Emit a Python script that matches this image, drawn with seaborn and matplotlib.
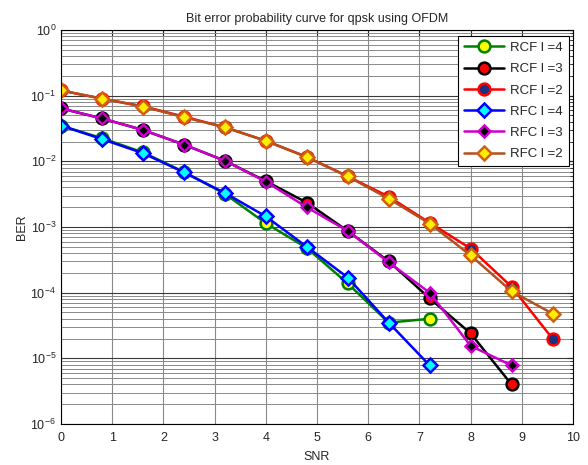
import numpy as np
import pandas as pd
import matplotlib
matplotlib.use("Agg")
import matplotlib.pyplot as plt
import seaborn as sns
from matplotlib.ticker import LogLocator, NullFormatter, MultipleLocator, FixedLocator

snr = [0, 0.8, 1.6, 2.4, 3.2, 4.0, 4.8, 5.6, 6.4, 7.2, 8.0, 8.8, 9.6]

rcf_l4 = [0.035, 0.0225, 0.0137, 0.0069, 0.0032, 1.14e-3, 4.8e-4, 1.38e-4, 3.5e-5, 4.0e-5]
rcf_l3 = [0.064, 0.045, 0.030, 0.018, 0.0102, 0.0050, 2.35e-3, 8.7e-4, 3.0e-4, 8.2e-5, 2.4e-5, 4.0e-6]
rcf_l2 = [0.120, 0.090, 0.069, 0.048, 0.033, 0.0205, 0.0117, 0.0059, 2.9e-3, 1.16e-3, 4.7e-4, 1.23e-4, 2.0e-5]
rfc_l4 = [0.035, 0.0218, 0.0133, 0.0068, 0.0033, 1.45e-3, 5.0e-4, 1.7e-4, 3.5e-5, 7.8e-6]
rfc_l3 = [0.064, 0.045, 0.030, 0.018, 0.0102, 0.0049, 2.0e-3, 8.7e-4, 2.9e-4, 1.0e-4, 1.55e-5, 7.8e-6]
rfc_l2 = [0.120, 0.090, 0.068, 0.047, 0.033, 0.0205, 0.0116, 0.0059, 2.7e-3, 1.13e-3, 3.7e-4, 1.05e-4, 4.8e-5]

labels = ["RCF l =4", "RCF l =3", "RCF l =2", "RFC l =4", "RFC l =3", "RFC l =2"]
series = [rcf_l4, rcf_l3, rcf_l2, rfc_l4, rfc_l3, rfc_l2]

styles = [
    dict(color="#008000", marker="o", mfc="#ffff00", mec="#008000", ms=8.5),
    dict(color="#000000", marker="o", mfc="#ff0000", mec="#000000", ms=8.5),
    dict(color="#ff0000", marker="o", mfc="#1c2f80", mec="#ff0000", ms=8.5),
    dict(color="#0000ff", marker="D", mfc="#00ffff", mec="#0000ff", ms=7),
    dict(color="#cc00cc", marker="D", mfc="#000000", mec="#cc00cc", ms=6),
    dict(color="#b4501e", marker="D", mfc="#ffee00", mec="#d06010", ms=7),
]

sns.set_style("white")
plt.rcParams["font.family"] = ["Liberation Sans", "DejaVu Sans"]

fig = plt.figure(figsize=(5.88, 4.65), dpi=100)
ax = fig.add_axes([61 / 588, 1 - 424 / 465, 512 / 588, 394 / 465])

for lab, vals, st in zip(labels, series, styles):
    df = pd.DataFrame({"SNR": snr[:len(vals)], "BER": vals})
    sns.lineplot(data=df, x="SNR", y="BER", ax=ax, label=lab, color=st["color"],
                 marker=st["marker"], markerfacecolor=st["mfc"], markeredgecolor=st["mec"],
                 markersize=st["ms"], markeredgewidth=1.8, linewidth=1.8)

ax.set_yscale("log")
ax.set_xlim(0, 10)
ax.set_ylim(1e-6, 1)
ax.xaxis.set_major_locator(MultipleLocator(1))
ax.yaxis.set_major_locator(FixedLocator([10.0 ** k for k in range(-6, 1)]))
minor = [m * 10.0 ** k for k in range(-6, 0) for m in range(2, 10)]
ax.yaxis.set_minor_locator(FixedLocator(minor))
ax.yaxis.set_minor_formatter(NullFormatter())

ax.grid(True, which="major", axis="y", color="#3a3a3a", linewidth=0.8, linestyle="-")
ax.grid(True, which="major", axis="x", color="#8a8a8a", linewidth=0.8, linestyle="-")
ax.grid(True, which="minor", axis="y", color="#8a8a8a", linewidth=0.7, linestyle="-")
ax.set_axisbelow(True)

for s in ax.spines.values():
    s.set_color("black")
    s.set_linewidth(0.8)
ax.tick_params(which="both", direction="in", top=True, right=True, labelsize=9, length=4)
ax.tick_params(which="minor", length=2)
ax.tick_params(axis="x", pad=6)

ax.set_xlabel("SNR", fontsize=9, labelpad=5)
ax.set_ylabel("BER", fontsize=9, labelpad=2)
ax.set_title("Bit error probability curve for qpsk using OFDM", fontsize=9, pad=6)

leg = ax.legend(loc="upper right", fontsize=9.5, frameon=True, fancybox=False,
                edgecolor="black", framealpha=1, borderpad=0.45, labelspacing=0.68,
                handlelength=3.0, handletextpad=0.5, borderaxespad=0,
                bbox_to_anchor=(0.992, 0.985))
leg.get_frame().set_linewidth(0.8)

fig.savefig("out.png", dpi=100)
